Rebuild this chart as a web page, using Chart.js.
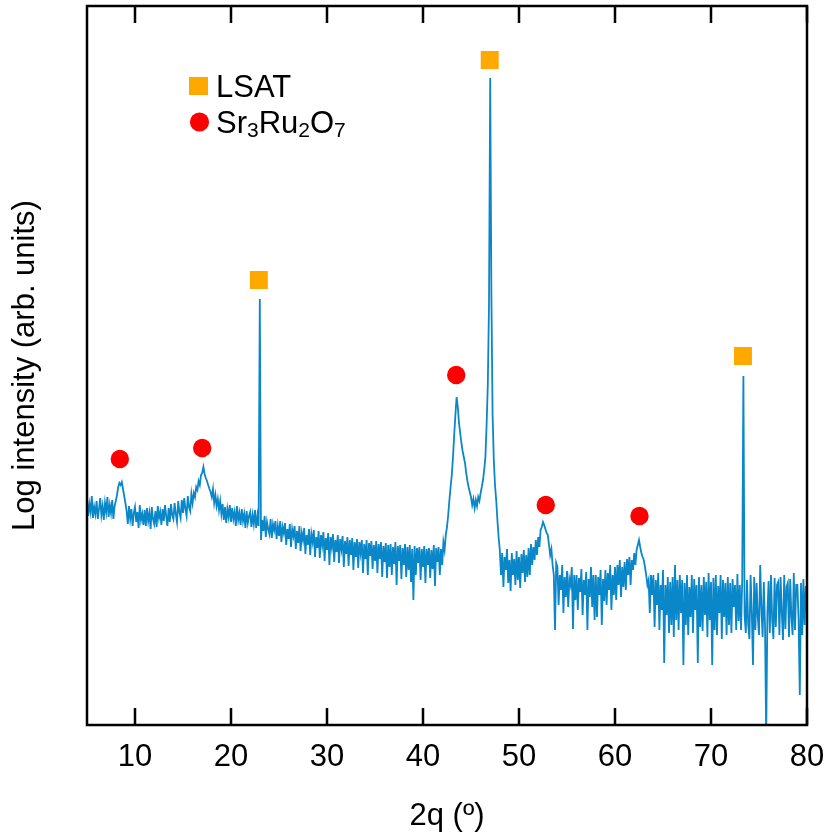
<!DOCTYPE html>
<html><head><meta charset="utf-8">
<script src="https://cdn.jsdelivr.net/npm/chart.js@4.4.1/dist/chart.umd.min.js"></script>
<style>html,body{margin:0;padding:0;background:#fff;}canvas{display:block;}</style>
</head><body>
<canvas id="c" width="830" height="839"></canvas>
<script>
// 2θ scan angles (degrees), one row per degree
const twoTheta = [
 5,5.125,5.25,5.375,5.5,5.625,5.75,5.875,
 6,6.125,6.25,6.375,6.5,6.625,6.75,6.875,
 7,7.125,7.25,7.375,7.5,7.625,7.75,7.875,
 8,8.125,8.25,8.375,8.5,8.625,8.75,8.875,
 9,9.125,9.25,9.375,9.5,9.625,9.75,9.875,
 10,10.125,10.25,10.375,10.5,10.625,10.75,10.875,
 11,11.125,11.25,11.375,11.5,11.625,11.75,11.875,
 12,12.125,12.25,12.375,12.5,12.625,12.75,12.875,
 13,13.125,13.25,13.375,13.5,13.625,13.75,13.875,
 14,14.125,14.25,14.375,14.5,14.625,14.75,14.875,
 15,15.125,15.25,15.375,15.5,15.625,15.75,15.875,
 16,16.125,16.25,16.375,16.5,16.625,16.75,16.875,
 17,17.125,17.25,17.375,17.5,17.625,17.75,17.875,
 18,18.125,18.25,18.375,18.5,18.625,18.75,18.875,
 19,19.125,19.25,19.375,19.5,19.625,19.75,19.875,
 20,20.125,20.25,20.375,20.5,20.625,20.75,20.875,
 21,21.125,21.25,21.375,21.5,21.625,21.75,21.875,
 22,22.125,22.25,22.375,22.5,22.625,22.75,22.875,
 23,23.125,23.25,23.375,23.5,23.625,23.75,23.875,
 24,24.125,24.25,24.375,24.5,24.625,24.75,24.875,
 25,25.125,25.25,25.375,25.5,25.625,25.75,25.875,
 26,26.125,26.25,26.375,26.5,26.625,26.75,26.875,
 27,27.125,27.25,27.375,27.5,27.625,27.75,27.875,
 28,28.125,28.25,28.375,28.5,28.625,28.75,28.875,
 29,29.125,29.25,29.375,29.5,29.625,29.75,29.875,
 30,30.125,30.25,30.375,30.5,30.625,30.75,30.875,
 31,31.125,31.25,31.375,31.5,31.625,31.75,31.875,
 32,32.125,32.25,32.375,32.5,32.625,32.75,32.875,
 33,33.125,33.25,33.375,33.5,33.625,33.75,33.875,
 34,34.125,34.25,34.375,34.5,34.625,34.75,34.875,
 35,35.125,35.25,35.375,35.5,35.625,35.75,35.875,
 36,36.125,36.25,36.375,36.5,36.625,36.75,36.875,
 37,37.125,37.25,37.375,37.5,37.625,37.75,37.875,
 38,38.125,38.25,38.375,38.5,38.625,38.75,38.875,
 39,39.125,39.25,39.375,39.5,39.625,39.75,39.875,
 40,40.125,40.25,40.375,40.5,40.625,40.75,40.875,
 41,41.125,41.25,41.375,41.5,41.625,41.75,41.875,
 42,42.125,42.25,42.375,42.5,42.625,42.75,42.875,
 43,43.125,43.25,43.375,43.5,43.625,43.75,43.875,
 44,44.125,44.25,44.375,44.5,44.625,44.75,44.875,
 45,45.125,45.25,45.375,45.5,45.625,45.75,45.875,
 46,46.125,46.25,46.375,46.5,46.625,46.75,46.875,
 47,47.125,47.25,47.375,47.5,47.625,47.75,47.875,
 48,48.125,48.25,48.375,48.5,48.625,48.75,48.875,
 49,49.125,49.25,49.375,49.5,49.625,49.75,49.875,
 50,50.125,50.25,50.375,50.5,50.625,50.75,50.875,
 51,51.125,51.25,51.375,51.5,51.625,51.75,51.875,
 52,52.125,52.25,52.375,52.5,52.625,52.75,52.875,
 53,53.125,53.25,53.375,53.5,53.625,53.75,53.875,
 54,54.125,54.25,54.375,54.5,54.625,54.75,54.875,
 55,55.125,55.25,55.375,55.5,55.625,55.75,55.875,
 56,56.125,56.25,56.375,56.5,56.625,56.75,56.875,
 57,57.125,57.25,57.375,57.5,57.625,57.75,57.875,
 58,58.125,58.25,58.375,58.5,58.625,58.75,58.875,
 59,59.125,59.25,59.375,59.5,59.625,59.75,59.875,
 60,60.125,60.25,60.375,60.5,60.625,60.75,60.875,
 61,61.125,61.25,61.375,61.5,61.625,61.75,61.875,
 62,62.125,62.25,62.375,62.5,62.625,62.75,62.875,
 63,63.125,63.25,63.375,63.5,63.625,63.75,63.875,
 64,64.125,64.25,64.375,64.5,64.625,64.75,64.875,
 65,65.125,65.25,65.375,65.5,65.625,65.75,65.875,
 66,66.125,66.25,66.375,66.5,66.625,66.75,66.875,
 67,67.125,67.25,67.375,67.5,67.625,67.75,67.875,
 68,68.125,68.25,68.375,68.5,68.625,68.75,68.875,
 69,69.125,69.25,69.375,69.5,69.625,69.75,69.875,
 70,70.125,70.25,70.375,70.5,70.625,70.75,70.875,
 71,71.125,71.25,71.375,71.5,71.625,71.75,71.875,
 72,72.125,72.25,72.375,72.5,72.625,72.75,72.875,
 73,73.125,73.25,73.375,73.5,73.625,73.75,73.875,
 74,74.125,74.25,74.375,74.5,74.625,74.75,74.875,
 75,75.125,75.25,75.375,75.5,75.625,75.75,75.875,
 76,76.125,76.25,76.375,76.5,76.625,76.75,76.875,
 77,77.125,77.25,77.375,77.5,77.625,77.75,77.875,
 78,78.125,78.25,78.375,78.5,78.625,78.75,78.875,
 79,79.125,79.25,79.375,79.5,79.625,79.75,79.875,
 80
];
// log intensity (arb. units), same rows as twoTheta
const logIntensity = [
 226,209,221,213,229,207,218,211,
 224,206,216,227,210,219,205,222,
 213,228,208,220,212,225,206,219,
 224,230,238,242,240,243,236,229,
 222,214,201,219,206,216,199,212,
 218,203,213,197,220,205,211,200,
 215,199,217,204,212,196,218,206,
 201,214,198,219,207,213,200,216,
 204,220,209,199,217,203,221,210,
 206,222,211,203,224,213,207,225,
 212,227,216,209,229,218,214,231,
 222,232,228,238,235,244,240,250,
 252,258,251,247,244,240,236,233,
 228,236,222,230,219,226,215,224,
 211,221,205,218,202,216,208,220,
 203,217,206,213,199,219,205,212,
 200,216,204,211,197,214,202,209,
 213,198,210,201,215,197,209,199,
 426,185,205,194,209,188,203,196,
 191,206,187,201,195,204,186,199,
 189,204,183,198,192,202,180,196,
 186,201,178,196,189,199,176,194,
 182,199,174,192,185,197,171,190,
 180,196,170,191,183,195,168,188,
 177,194,167,190,180,193,164,187,
 175,192,160,188,178,191,163,185,
 173,190,162,186,176,189,158,184,
 171,188,159,185,170,187,155,183,
 168,186,157,183,172,185,152,181,
 166,185,150,182,169,184,156,180,
 164,184,152,181,166,183,148,179,
 163,182,147,180,158,181,150,178,
 161,183,140,179,164,180,146,177,
 160,181,148,178,155,180,143,176,
 125,179,150,177,162,178,145,176,
 158,179,142,176,160,177,147,175,
 156,180,139,177,163,178,150,176,
 160,183,175,190,198,210,225,238,
 250,268,290,310,328,318,302,292,
 282,274,268,262,252,244,238,233,
 228,220,226,217,225,219,228,224,
 232,238,245,255,268,300,340,420,
 647,430,310,265,240,225,205,188,
 175,150,172,138,168,155,176,142,
 165,134,172,150,166,140,174,145,
 168,137,171,152,175,143,170,148,
 177,150,181,160,178,165,185,170,
 188,178,195,198,203,200,196,192,
 190,180,170,176,160,150,95,162,
 158,120,150,135,160,112,148,128,
 154,118,146,140,158,96,150,125,
 150,115,147,133,156,110,145,130,
 153,95,146,128,158,118,150,105,
 150,108,148,130,155,100,146,124,
 155,120,152,135,160,115,150,130,
 158,125,160,140,165,128,158,138,
 163,135,166,150,168,140,165,155,
 172,160,175,180,185,178,172,168,
 165,158,150,140,145,112,150,130,
 150,98,145,120,152,95,140,115,
 155,62,140,110,148,92,143,100,
 148,88,160,105,145,95,150,112,
 145,60,142,100,150,90,138,108,
 150,92,146,115,140,62,148,98,
 140,94,148,110,143,88,152,105,
 143,60,147,95,150,90,139,112,
 150,86,145,108,142,90,148,100,
 142,92,146,118,140,95,151,104,
 140,95,145,349,110,92,145,100,
 86,150,112,60,148,95,142,108,
 90,160,118,88,143,100,-10,112,
 144,92,150,105,86,147,98,140,
 143,90,148,112,85,150,96,138,
 142,88,146,108,90,152,95,140,
 140,105,30,142,90,146,100,138,
 138
];
const xTickValues = [10,20,30,40,50,60,70,80];
// peak markers
const lsatAngle = [22.9, 46.95, 73.33];
const lsatMark = [445, 665, 369];
const srAngle = [8.42, 17.0, 43.46, 52.79, 62.55];
const srMark = [266, 277, 350, 220, 209];
const seriesNames = ['LSAT', 'Sr3Ru2O7'];

const FONT = "'Liberation Sans', Arial, sans-serif";
const BLUE = '#0a87c9', ORANGE = '#FFA800', RED = '#FF0000';

const framePlugin = {
  id: 'frame',
  afterDatasetsDraw(chart) {
    const {ctx, chartArea: a, scales: {x}} = chart;
    ctx.save();
    ctx.strokeStyle = '#000';
    ctx.lineWidth = 2.5;
    ctx.strokeRect(a.left, a.top, a.right - a.left, a.bottom - a.top);
    ctx.beginPath();
    x.ticks.forEach(t => {
      const px = x.getPixelForValue(t.value);
      ctx.moveTo(px, a.bottom); ctx.lineTo(px, a.bottom - 17);
      ctx.moveTo(px, a.top); ctx.lineTo(px, a.top + 17);
    });
    ctx.stroke();
    ctx.restore();
  },
  afterDraw(chart) {
    const ctx = chart.ctx;
    ctx.save();
    ctx.fillStyle = ORANGE;
    ctx.fillRect(189, 77, 19, 18);
    ctx.fillStyle = RED;
    ctx.beginPath(); ctx.arc(199.5, 122, 9.6, 0, Math.PI * 2); ctx.fill();
    ctx.fillStyle = '#000';
    ctx.textBaseline = 'alphabetic';
    ctx.font = '31px ' + FONT;
    ctx.fillText(seriesNames[0], 216, 97);
    const parts = [['Sr', 0], ['3', 1], ['Ru', 0], ['2', 1], ['O', 0], ['7', 1]];
    let xx = 216;
    parts.forEach(([s, sub]) => {
      ctx.font = (sub ? '21px ' : '31px ') + FONT;
      ctx.fillText(s, xx, sub ? 137 : 133);
      xx += ctx.measureText(s).width;
    });
    ctx.restore();
  }
};

new Chart(document.getElementById('c'), {
  data: {
    datasets: [
      { type: 'line', label: 'XRD', data: twoTheta.map((t, i) => ({x: t, y: logIntensity[i]})),
        borderColor: BLUE, borderWidth: 1.8, pointRadius: 0, tension: 0, clip: 0, order: 2 },
      { type: 'scatter', label: seriesNames[0], data: lsatAngle.map((t, i) => ({x: t, y: lsatMark[i]})),
        pointStyle: 'rect', pointRadius: 12.7, backgroundColor: ORANGE, borderWidth: 0, order: 1 },
      { type: 'scatter', label: seriesNames[1], data: srAngle.map((t, i) => ({x: t, y: srMark[i]})),
        pointStyle: 'circle', pointRadius: 9.2, backgroundColor: RED, borderWidth: 0, order: 0 }
    ]
  },
  options: {
    responsive: false, animation: false, devicePixelRatio: 1,
    layout: {autoPadding: false, padding: {top: 6, right: 23, left: 0, bottom: 0}},
    plugins: {legend: {display: false}, tooltip: {enabled: false}},
    scales: {
      x: {
        type: 'linear', min: 5, max: 80,
        afterBuildTicks: s => { s.ticks = xTickValues.map(v => ({value: v})); },
        afterFit: s => { s.height = 114; s.paddingLeft = 0; s.paddingRight = 0; },
        grid: {display: false, drawTicks: false}, border: {display: false},
        ticks: {padding: 14, color: '#000', font: {family: FONT, size: 31}, maxRotation: 0, autoSkip: false},
        title: {display: true, text: '2q (º)', color: '#000', font: {family: FONT, size: 31}, padding: {top: 0, bottom: 4}}
      },
      y: {
        type: 'linear', min: 0, max: 719,
        afterFit: s => { s.width = 87; s.paddingTop = 0; s.paddingBottom = 0; },
        grid: {display: false, drawTicks: false}, border: {display: false},
        ticks: {display: false},
        title: {display: true, text: 'Log intensity (arb. units)', color: '#000', font: {family: FONT, size: 31}, padding: {top: 7, bottom: 0}}
      }
    }
  },
  plugins: [framePlugin]
});
</script>
</body></html>
